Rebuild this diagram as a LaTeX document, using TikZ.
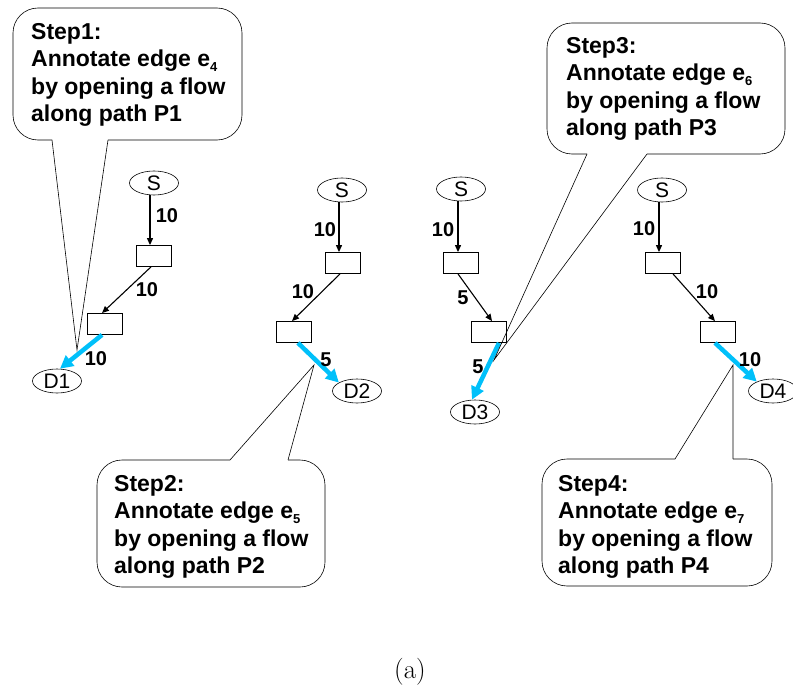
\documentclass[tikz,border=0pt]{standalone}
\usepackage{fontspec}
\newfontfamily\arialfont{Liberation Sans}
\usetikzlibrary{arrows.meta,shapes.geometric}
\definecolor{skyblue}{RGB}{0,192,250}
\newcommand{\sub}[1]{\raisebox{-5pt}{\fontsize{13}{13}\selectfont #1}}

\begin{document}
\begin{tikzpicture}[x=1pt,y=-1pt,
  every node/.style={inner sep=0pt},
  vert/.style={draw, ellipse, minimum width=49pt, minimum height=24pt,
    line width=0.6pt, font=\arialfont\fontsize{21}{21}\selectfont},
  relay/.style={draw, rectangle, minimum width=35pt, minimum height=21pt, line width=0.8pt},
  flow/.style={-{Triangle[length=7pt,width=6pt]}, line width=1.1pt},
  hot/.style={-{Triangle[length=13pt,width=13pt]}, line width=4.5pt, draw=skyblue},
  amount/.style={font=\arialfont\bfseries\fontsize{20}{20}\selectfont},
  balloon/.style={line width=0.6pt, rounded corners=25pt},
  tail/.style={line width=0.6pt},
  note/.style={anchor=north west, align=left,
    font=\arialfont\bfseries\fontsize{23}{27.5}\selectfont},
]
\useasboundingbox (0,0) rectangle (793,698);

% ---------- graph 1 ----------
\node[vert]  (s1)  at (154,183) {S};
\node[relay] (a1)  at (154,256) {};
\node[relay] (b1)  at (105,324) {};
\node[vert]  (d1)  at (57,381)  {D1};
\draw[flow] ([xshift=-4pt]s1.south) -- ([xshift=-4pt]a1.north);
\draw[flow] ([xshift=-3pt]a1.south) -- ([xshift=-3pt]b1.north);
\draw[hot]  ([xshift=-3pt]b1.south) -- ([xshift=3pt]d1.north);
\node[amount] (l11) at (167,216) {10};
\node[amount] (l12) at (147,290) {10};
\node[amount] (l13) at (96,359)  {10};

% ---------- graph 2 ----------
\node[vert]  (s2)  at (342,190) {S};
\node[relay] (a2)  at (343,263) {};
\node[relay] (b2)  at (294,332) {};
\node[vert]  (d2)  at (357,391) {D2};
\draw[flow] ([xshift=-3pt]s2.south) -- ([xshift=-4pt]a2.north);
\draw[flow] ([xshift=-3pt]a2.south) -- ([xshift=-2pt]b2.north);
\draw[hot]  ([xshift=4pt]b2.south) -- (d2.155);
\node[amount] (l21) at (325,230) {10};
\node[amount] (l22) at (303,292) {10};
\node[amount] (l23) at (326,360) {5};

% ---------- graph 3 ----------
\node[vert]  (s3)  at (461,189) {S};
\node[relay] (a3)  at (461,263) {};
\node[relay] (b3)  at (489,332) {};
\node[vert]  (d3)  at (475,412) {D3};
\draw[flow] ([xshift=-3pt]s3.south) -- ([xshift=-3pt]a3.north);
\draw[flow] ([xshift=-3pt]a3.south) -- ([xshift=3pt]b3.north);
\draw[hot]  ([xshift=10pt]b3.south) -- ([xshift=-3pt]d3.north);
\node[amount] (l31) at (443,230) {10};
\node[amount] (l32) at (463,298) {5};
\node[amount] (l33) at (478,367) {5};

% ---------- graph 4 ----------
\node[vert]  (s4)  at (662,190) {S};
\node[relay] (a4)  at (663,263) {};
\node[relay] (b4)  at (718,332) {};
\node[vert]  (d4)  at (773,391) {D4};
\draw[flow] ([xshift=-3pt]s4.south) -- ([xshift=-4pt]a4.north);
\draw[flow] ([xshift=10pt]a4.south) -- ([xshift=-3pt]b4.north);
\draw[hot]  ([xshift=-3pt]b4.south) -- (d4.150);
\node[amount] (l41) at (644,229) {10};
\node[amount] (l42) at (707,292) {10};
\node[amount] (l43) at (750,360) {10};

% ---------- callouts ----------
\coordinate (t1) at (77,350);
\draw[balloon] (52,140) -- (13,140) -- (13,8) -- (242,8) -- (242,140) -- (108,140);
\draw[tail] (108,140) -- (t1) -- (52,140);
\node[note] (n1) at (31,23) {Step1:\\Annotate edge e\sub{4}\\by opening a flow\\along path P1};

\coordinate (t2) at (314,365);
\draw[balloon] (230,460) -- (97,460) -- (97,587) -- (325,587) -- (325,460) -- (288,460);
\draw[tail] (230,460) -- (t2) -- (288,460);
\node[note] (n2) at (114,475) {Step2:\\Annotate edge e\sub{5}\\by opening a flow\\along path P2};

\coordinate (t3) at (494,360);
\draw[balloon] (587,154) -- (547,154) -- (547,23) -- (785,23) -- (785,154) -- (647,154);
\draw[tail] (587,154) -- (t3) -- (647,154);
\node[note] (n3) at (566,37) {Step3:\\Annotate edge e\sub{6}\\by opening a flow\\along path P3};

\coordinate (t4) at (733,365);
\draw[balloon] (675,459) -- (542,459) -- (542,586) -- (772,586) -- (772,459) -- (733,459);
\draw[tail] (675,459) -- (t4) -- (733,459);
\node[note] (n4) at (558,475) {Step4:\\Annotate edge e\sub{7}\\by opening a flow\\along path P4};

% ---------- caption ----------
\node[font=\fontsize{27}{30}\selectfont] (cap) at (410,672) {(a)};
\end{tikzpicture}
\end{document}
